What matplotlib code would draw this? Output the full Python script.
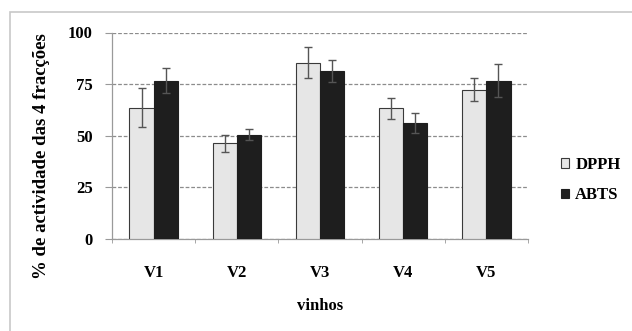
import matplotlib
matplotlib.use("Agg")
import matplotlib.pyplot as plt
from matplotlib.patches import Rectangle
import numpy as np

categories = ["V1", "V2", "V3", "V4", "V5"]
dpph = [63.6, 46.3, 85.4, 63.3, 72.2]
dpph_err = [9.3, 4.0, 7.4, 5.0, 5.6]
abts = [76.7, 50.4, 81.5, 56.0, 76.7]
abts_err = [6.0, 2.7, 5.4, 4.9, 7.9]
yticks = [0, 25, 50, 75, 100]

plt.rcParams['font.family'] = ['Liberation Serif', 'DejaVu Serif']
plt.rcParams['font.weight'] = 'bold'

W, H = 632, 331
fig = plt.figure(figsize=(W / 100, H / 100), dpi=100)

# outer frame
fig.patches.append(Rectangle((10 / W, -0.1), 1.2, (H - 12) / H + 0.1,
                             transform=fig.transFigure, fill=False,
                             edgecolor='#c8c8c8', linewidth=1.2))

ax = fig.add_axes([112 / W, (H - 239) / H, (528 - 112) / W, (239 - 32.5) / H])

x = np.arange(len(categories))
w = 0.29
err_kw = dict(ecolor='#555555', elinewidth=1.0, capsize=3, capthick=1.0)
ax.bar(x - w / 2, dpph, w, yerr=dpph_err, color='#e6e6e6', edgecolor='#3a3a3a',
       linewidth=0.8, label='DPPH', error_kw=err_kw, zorder=3)
ax.bar(x + w / 2, abts, w, yerr=abts_err, color='#1e1e1e', edgecolor='#1e1e1e',
       linewidth=0.8, label='ABTS', error_kw=err_kw, zorder=3)

ax.set_xlim(-0.5, len(categories) - 0.5)
ax.set_ylim(0, 100)
ax.set_yticks(yticks)
ax.set_yticklabels([str(v) for v in yticks], fontsize=12, fontweight='bold')
ax.set_xticks(x)
ax.set_xticklabels(categories, fontsize=12, fontweight='bold')
ax.tick_params(axis='x', length=0, pad=19)
ax.tick_params(axis='y', length=5, color='#999999', pad=9)
# minor ticks at category boundaries
ax.set_xticks(np.arange(-0.5, len(categories)), minor=True)
ax.tick_params(axis='x', which='minor', length=3, color='#999999')

ax.yaxis.grid(True, linestyle=(0, (3, 1.5)), color='#8c8c8c', linewidth=0.9, zorder=0)
for s in ['top', 'right']:
    ax.spines[s].set_visible(False)
for s in ['left', 'bottom']:
    ax.spines[s].set_color('#9a9a9a')
    ax.spines[s].set_linewidth(0.9)

ax.set_ylabel('% de actividade das 4 fracções', fontsize=13.5, fontweight='bold')
ax.yaxis.set_label_coords(-0.148, 0.40)
ax.set_xlabel('vinhos', fontsize=12, fontweight='bold', labelpad=12)

leg = fig.legend(loc='upper left', bbox_to_anchor=(546 / W, (H - 142) / H),
                 frameon=False, handlelength=0.5, handleheight=0.5,
                 handletextpad=0.35, labelspacing=0.85, prop={'weight': 'bold', 'size': 12})

fig.savefig('out.png', dpi=100)
